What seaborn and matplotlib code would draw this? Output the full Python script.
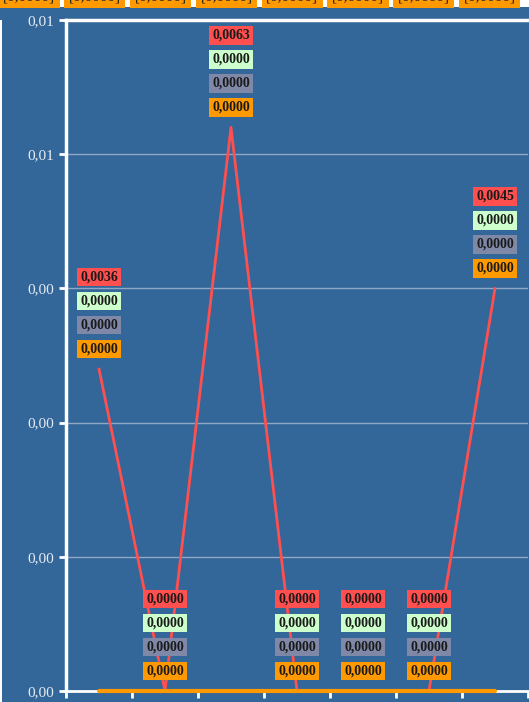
import matplotlib
matplotlib.use("Agg")
import matplotlib.pyplot as plt
import matplotlib.ticker as mticker
from matplotlib.patches import Rectangle
import numpy as np
import pandas as pd
import seaborn as sns

# data
categories = ["1", "2", "3", "4", "5", "6", "7"]
red_vals = [0.0036, 0.0, 0.0063, 0.0, 0.0, 0.0, 0.0045]
green_vals = [0.0, 0.0, 0.0, 0.0, 0.0, 0.0, 0.0]
gray_vals = [0.0, 0.0, 0.0, 0.0, 0.0, 0.0, 0.0]
orange_vals = [0.0, 0.0, 0.0, 0.0, 0.0, 0.0, 0.0]
y_ticks = [0.0, 0.0015, 0.003, 0.0045, 0.006, 0.0075]
top_labels = ["[0,0000]"] * 8

BG = "#336699"
series = {
    "red": (red_vals, "#ff4f4f"),
    "green": (green_vals, "#ccffcc"),
    "gray": (gray_vals, "#8088a8"),
    "orange": (orange_vals, "#ff9900"),
}
offsets = {"red": 92, "green": 68, "gray": 44, "orange": 20}

sns.set_theme(style="white")
plt.rcParams["font.family"] = ["Liberation Serif", "DejaVu Serif"]

rows = []
for name, (vals, _) in series.items():
    for i, v in enumerate(vals):
        rows.append({"x": i, "y": v, "series": name})
df = pd.DataFrame(rows)

fig = plt.figure(figsize=(5.29, 7.02), dpi=100)
fig.patch.set_facecolor(BG)
ax = fig.add_axes([66 / 529, 1 - 691 / 702, 462 / 529, 671 / 702])
ax.set_facecolor(BG)

for name in ["green", "gray", "red", "orange"]:
    sub = df[df["series"] == name]
    lw = 3 if name == "orange" else 2
    sns.lineplot(data=sub, x="x", y="y", color=series[name][1], lw=lw,
                 sort=False, ax=ax, legend=False)
for ln in ax.lines:
    ln.set_clip_on(False)
ax.lines[-1].set_zorder(4)

ax.set_xlim(-0.5, 6.5)
ax.set_ylim(0, 0.0075)
ax.set_yticks(y_ticks)
ax.yaxis.set_major_formatter(mticker.FuncFormatter(lambda v, p: f"{v:.2f}".replace(".", ",")))
ax.set_xticks(np.arange(-0.5, 7, 1))
ax.set_xticklabels([])
ax.tick_params(axis="both", colors="white", length=5, width=2, labelcolor="#e6ecf5",
               labelsize=11, bottom=True, left=True, direction="out")
ax.set_xlabel("")
ax.set_ylabel("")
ax.grid(axis="y", color="#8fa8c4", lw=1)
ax.grid(axis="x", visible=False)
for s in ["left", "top"]:
    ax.spines[s].set_color("white")
    ax.spines[s].set_linewidth(2.5)
ax.spines["bottom"].set_color("white")
ax.spines["bottom"].set_linewidth(2)
ax.spines["right"].set_visible(False)

# value labels stacked above the red point of each category
for name, (vals, col) in series.items():
    for i, v in enumerate(vals):
        ax.annotate(f"{v:.4f}".replace(".", ","), xy=(i, red_vals[i]), xytext=(0, offsets[name]),
                    textcoords="offset pixels", ha="center", va="center",
                    fontsize=10, fontweight="bold", color="#1a1a1a", zorder=5,
                    bbox=dict(boxstyle="square,pad=0.2", fc=col, ec="none"),
                    annotation_clip=False)

# strip of cut-off labels along the top edge and left edge line
fig.patches.append(Rectangle((0, 1 - 7 / 702), 1, 7 / 702, transform=fig.transFigure,
                             fc="white", ec="none", zorder=0))
fig.patches.append(Rectangle((0, 0), 2 / 529, 1 - 20 / 702, transform=fig.transFigure,
                             fc="white", ec="none", zorder=0))
for k, lab in enumerate(top_labels):
    fig.text((29 + 65.8 * k) / 529, 1 + 3 / 702, lab, ha="center", va="center",
             fontsize=11, color="#1a1a1a",
             bbox=dict(boxstyle="square,pad=0.3", fc="#ff9900", ec="none"))

fig.savefig("out.png", dpi=100, facecolor=BG)
